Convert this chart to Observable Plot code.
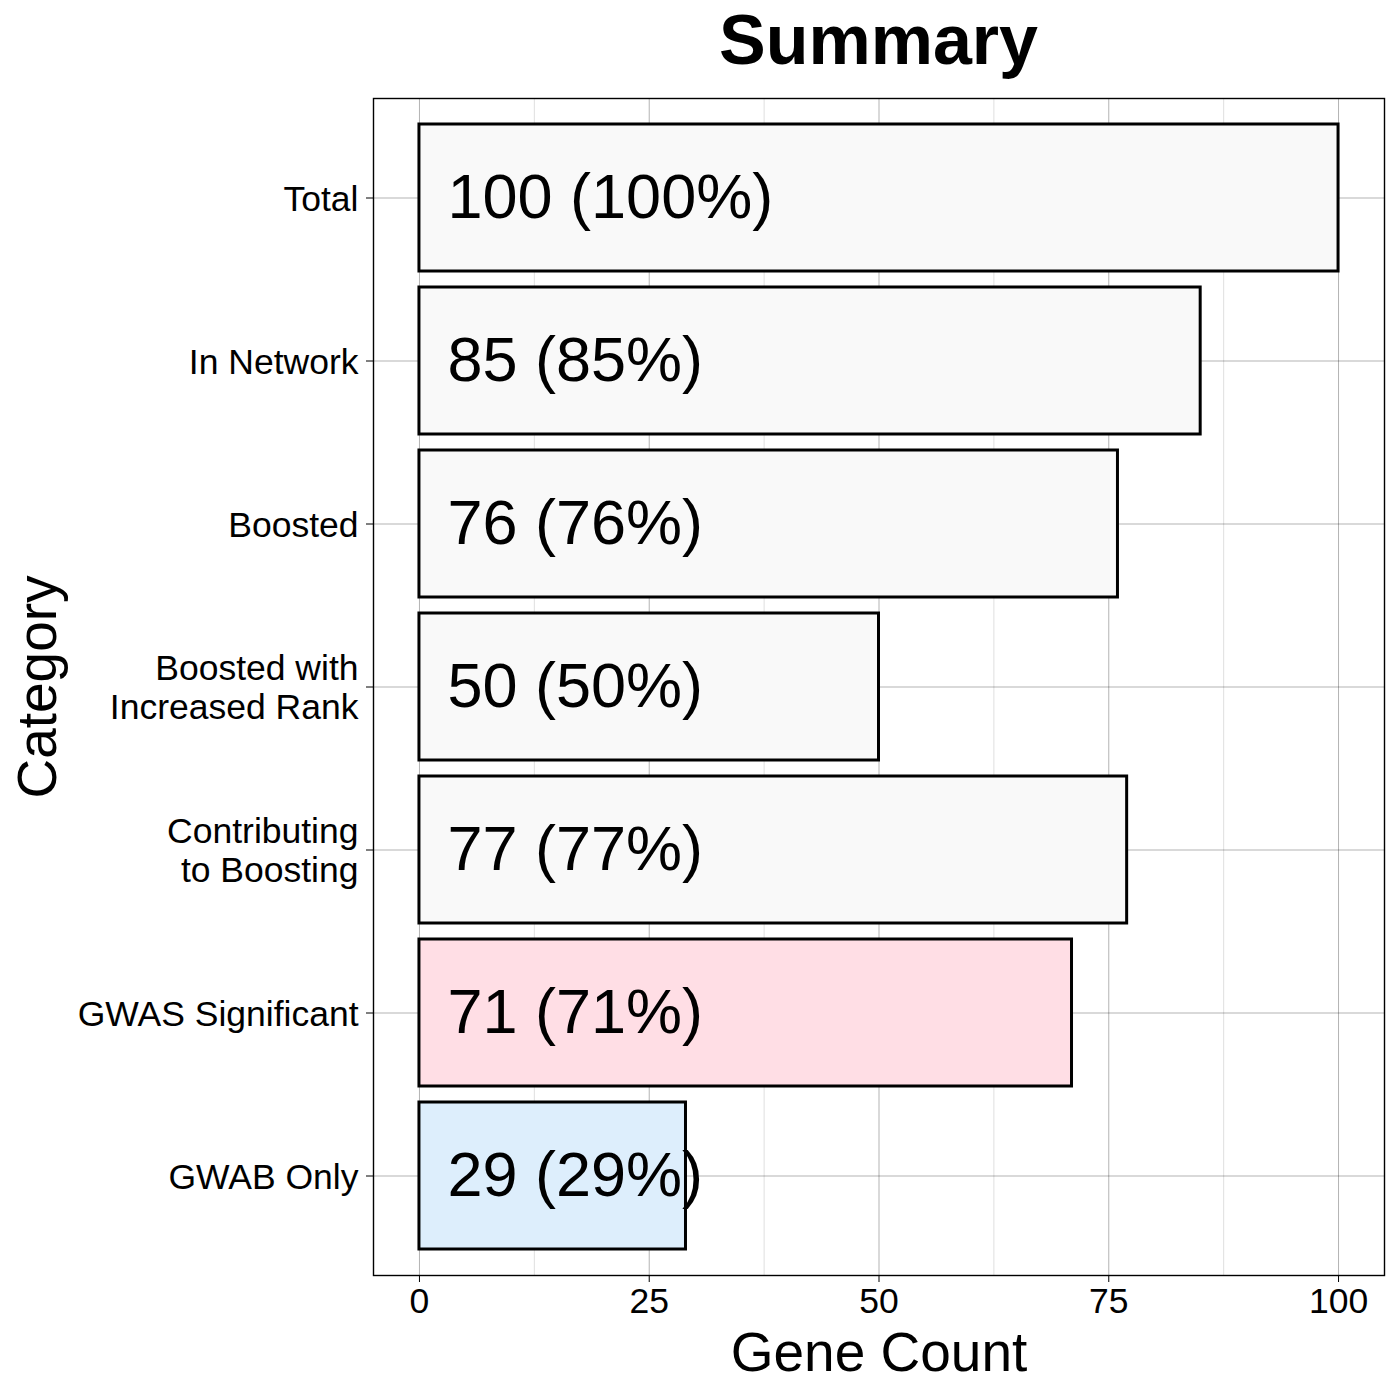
<!DOCTYPE html>
<html>
<head>
<meta charset="utf-8">
<script src="https://cdn.jsdelivr.net/npm/d3@7"></script>
<script src="https://cdn.jsdelivr.net/npm/@observablehq/plot@0.6"></script>
<style>
  html, body { margin: 0; padding: 0; background: #fff; }
  #wrap { position: relative; width: 1400px; height: 1400px; font-family: "Liberation Sans", Arial, sans-serif; }
  #title { position: absolute; top: 5px; left: 373px; width: 1011px; text-align: center; font-size: 70px; line-height: 70px; font-weight: bold; color: #000; }
  #chart { position: absolute; top: 90px; left: 0; }
</style>
</head>
<body>
<div id="wrap">
  <div id="title">Summary</div>
  <div id="chart"></div>
</div>
<script>
const categories = ["Total", "In Network", "Boosted", "Boosted with\nIncreased Rank", "Contributing\nto Boosting", "GWAS Significant", "GWAB Only"];
const counts = [100, 85, 76, 50, 77, 71, 29];
const totalGenes = 100;
const barFills = ["#f9f9f9", "#f9f9f9", "#f9f9f9", "#f9f9f9", "#f9f9f9", "#ffdee5", "#ddeefc"];
const xTicks = [0, 25, 50, 75, 100];
const xMinorTicks = [12.5, 37.5, 62.5, 87.5];

const data = categories.map((c, i) => ({
  category: c,
  count: counts[i],
  fill: barFills[i],
  label: `${counts[i]} (${Math.round(counts[i] / totalGenes * 100)}%)`
}));

const chart = Plot.plot({
  width: 1400,
  height: 1310,
  marginTop: 8,
  marginBottom: 125,
  marginLeft: 373,
  marginRight: 16,
  style: { fontFamily: "Liberation Sans, Arial, sans-serif", background: "#fff", color: "#000" },
  x: { domain: [-5, 105] },
  y: { domain: categories, paddingInner: 0.1, paddingOuter: 0.15, align: 0.5 },
  color: { type: "identity" },
  marks: [
    Plot.ruleX(xMinorTicks, { stroke: "#000", strokeOpacity: 0.13, strokeWidth: 1 }),
    Plot.ruleX(xTicks, { stroke: "#000", strokeOpacity: 0.3, strokeWidth: 1 }),
    Plot.gridY({ stroke: "#000", strokeOpacity: 0.3, strokeWidth: 1 }),
    Plot.barX(data, { x: "count", y: "category", fill: "fill", stroke: "#000", strokeWidth: 3 }),
    Plot.text(data, { x: () => 0, y: "category", text: "label", textAnchor: "start", dx: 28, fontSize: 63, fill: "#000" }),
    Plot.frame({ stroke: "#000", strokeWidth: 1.4 }),
    Plot.axisX({ ticks: xTicks, tickSize: 7, tickPadding: 5, fontSize: 35.5, label: null, stroke: "#000" }),
    Plot.axisY({ tickSize: 7, tickPadding: 8, fontSize: 35.5, lineHeight: 1.1, label: null, stroke: "#000" }),
    Plot.text(["Gene Count"], { frameAnchor: "bottom", text: d => d, lineAnchor: "middle", textAnchor: "middle", dy: 78, fontSize: 55, fill: "#000" }),
    Plot.text(["Category"], { frameAnchor: "left", text: d => d, rotate: -90, lineAnchor: "middle", textAnchor: "middle", dx: -335, fontSize: 55, fill: "#000" })
  ]
});
document.getElementById("chart").appendChild(chart);
</script>
</body>
</html>
